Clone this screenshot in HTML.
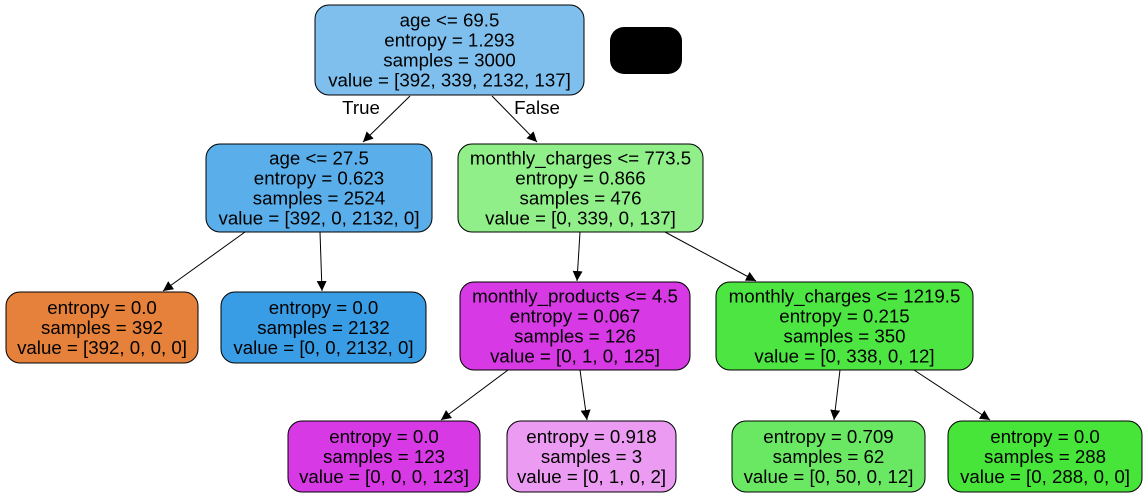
<!DOCTYPE html>
<html><head><meta charset="utf-8"><style>
html,body{margin:0;padding:0;background:#fff;}
svg{display:block;font-family:"Liberation Sans",Arial,sans-serif;}
</style></head><body>
<svg id="tree" width="1148" height="497" viewBox="0 0 1148 497" xmlns="http://www.w3.org/2000/svg">
<defs><marker id="arr" viewBox="0 0 10 10" refX="10" refY="5" markerWidth="10" markerHeight="10" markerUnits="userSpaceOnUse" orient="auto"><path d="M0,0 L10,5 L0,10 z" fill="#000"/></marker></defs>
</svg>
<script>
const nodeNames=['root-node','age-27-node','monthly-charges-773-node','leaf-392','leaf-2132','monthly-products-node','monthly-charges-1219-node','leaf-123','leaf-pink-3','leaf-62','leaf-288'];
const nodeLines=[
 ['age <= 69.5','entropy = 1.293','samples = 3000','value = [392, 339, 2132, 137]'],
 ['age <= 27.5','entropy = 0.623','samples = 2524','value = [392, 0, 2132, 0]'],
 ['monthly_charges <= 773.5','entropy = 0.866','samples = 476','value = [0, 339, 0, 137]'],
 ['entropy = 0.0','samples = 392','value = [392, 0, 0, 0]'],
 ['entropy = 0.0','samples = 2132','value = [0, 0, 2132, 0]'],
 ['monthly_products <= 4.5','entropy = 0.067','samples = 126','value = [0, 1, 0, 125]'],
 ['monthly_charges <= 1219.5','entropy = 0.215','samples = 350','value = [0, 338, 0, 12]'],
 ['entropy = 0.0','samples = 123','value = [0, 0, 0, 123]'],
 ['entropy = 0.918','samples = 3','value = [0, 1, 0, 2]'],
 ['entropy = 0.709','samples = 62','value = [0, 50, 0, 12]'],
 ['entropy = 0.0','samples = 288','value = [0, 288, 0, 0]']
];
const nodeColors=['#7ebfee','#5aaeea','#90ef89','#e5813a','#399de5','#d739e5','#4de542','#d739e5','#eb9cf2','#6be863','#47e539'];
const nodeBoxes=[[315,5,269,90],[206,144,226,88],[458,144,245,88],[6,292,192,71],[221,292,205,71],[460,282,230,88],[716,282,257,88],[288,421,192,71],[507,421,169,71],[732,421,193,71],[948,421,194,71]];
const edges=[[0,1,410,96,363,142],[0,2,492,96,537,142],[1,3,245,232,163,291],[1,4,320,232,322,291],[2,5,580,232,577,281],[2,6,665,232,756,281],[5,7,508,370,441,420],[5,8,580,370,587,420],[6,9,840,370,834,420],[6,10,914,370,990,420]];
const svg=document.getElementById('tree');
const NS='http://www.w3.org/2000/svg';
function mk(t,a){const e=document.createElementNS(NS,t);for(const k in a)e.setAttribute(k,a[k]);svg.appendChild(e);return e;}
edges.forEach(e=>{
 const l=mk('line',{x1:e[2],y1:e[3],x2:e[4],y2:e[5],stroke:'#000','stroke-width':1,'marker-end':'url(#arr)'});
 
 
});
nodeBoxes.forEach((b,i)=>{
 const r=mk('rect',{x:b[0],y:b[1],width:b[2],height:b[3],rx:14,ry:14,fill:nodeColors[i],stroke:'#000','stroke-width':1});
 
 
 const ls=nodeLines[i],n=ls.length,sp=20;
 const cx=b[0]+b[2]/2,cy=b[1]+b[3]/2;
 ls.forEach((s,j)=>{
  const t=mk('text',{x:cx,y:cy+(j-(n-1)/2)*sp+6.5,'text-anchor':'middle','font-size':18.7,fill:'#000'});
  t.textContent=s;
  
  
 });
});
const bk=mk('rect',{x:610,y:27,width:72,height:47,rx:14,ry:14,fill:'#000'});


[['True',361,114],['False',537,114]].forEach(a=>{
 const t=mk('text',{x:a[1],y:a[2],'text-anchor':'middle','font-size':18.7});
 t.textContent=a[0];
 
 
});
</script>
</body></html>
